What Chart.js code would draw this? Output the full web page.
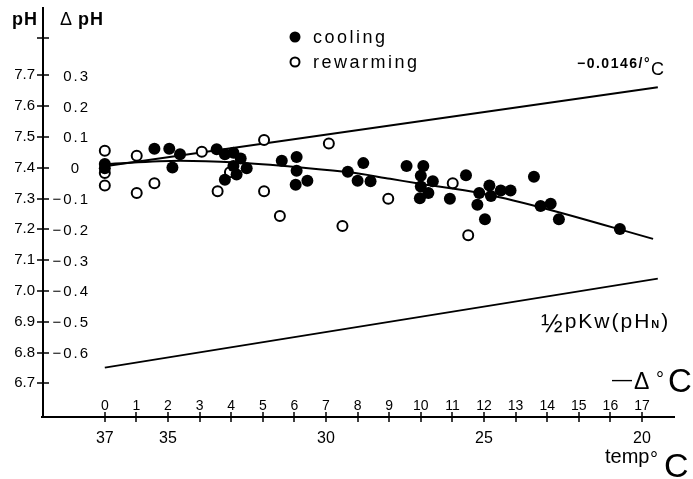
<!DOCTYPE html>
<html>
<head>
<meta charset="utf-8">
<style>
  html, body { margin: 0; padding: 0; background: #fff; }
  canvas { display: block; }
</style>
<script src="https://cdn.jsdelivr.net/npm/chart.js@4.4.0/dist/chart.umd.min.js"></script>
</head>
<body>
<canvas id="chart" width="693" height="479"></canvas>
<script>
// Blood pH against cooling below 37 °C (−Δ°C), cooling and rewarming runs.
const coolingDelta = [0, 0, 1.57, 2.04, 2.38, 2.14, 3.54, 3.80, 4.07, 4.30, 4.07, 4.49, 4.17, 3.80,
  5.60, 6.07, 6.07, 6.41, 6.04, 7.69, 8.18, 8.00, 8.41, 9.55, 10.08, 10.00, 10.38, 10.00, 10.24,
  9.97, 10.92, 11.43, 11.85, 12.17, 12.22, 11.79, 12.03, 12.53, 12.84, 13.58, 13.79, 14.11, 14.37, 16.30];
const coolingPH = [7.412, 7.398, 7.462, 7.462, 7.444, 7.401, 7.460, 7.444, 7.449, 7.430, 7.406, 7.398, 7.378, 7.361,
  7.423, 7.435, 7.390, 7.358, 7.345, 7.387, 7.415, 7.358, 7.356, 7.406, 7.406, 7.374, 7.356, 7.339, 7.318,
  7.301, 7.299, 7.376, 7.318, 7.342, 7.308, 7.280, 7.233, 7.326, 7.326, 7.371, 7.276, 7.283, 7.233, 7.201];

const rewarmingDelta = [0, 0, 0, 1.01, 1.01, 1.57, 3.07, 3.57, 3.96, 5.04, 5.04, 5.54, 7.09, 7.52, 8.97, 11.01, 11.50];
const rewarmingPH = [7.455, 7.383, 7.342, 7.439, 7.318, 7.350, 7.452, 7.324, 7.385, 7.490, 7.324, 7.243, 7.479, 7.211, 7.299, 7.350, 7.181];

// fitted trend through the cooling data
const trendDelta = [0, 2.38, 4.17, 6.18, 7.76, 9.03, 9.98, 11.87, 13.77, 17.35];
const trendPH = [7.412, 7.423, 7.417, 7.401, 7.385, 7.364, 7.348, 7.318, 7.272, 7.169];

// constant-slope line, −0.0146 pH per °C
const slopeDelta = [0, 17.5];
const slopePH = [7.405, 7.661];

// ½ pKw (neutral pH of water)
const neutralDelta = [0, 17.5];
const neutralPH = [6.751, 7.04];

// axis ticks
const deltaTicks = [0, 1, 2, 3, 4, 5, 6, 7, 8, 9, 10, 11, 12, 13, 14, 15, 16, 17];
const tempTickAt = [0, 2, 7, 12, 17];
const tempTickLabels = ['37', '35', '30', '25', '20'];
const phTicks = [6.7, 6.8, 6.9, 7.0, 7.1, 7.2, 7.3, 7.4, 7.5, 7.6, 7.7];
const phTopTick = 7.82;
const dphAt = [6.8, 6.9, 7.0, 7.1, 7.2, 7.3, 7.4, 7.5, 7.6, 7.7];
const dphLabels = ['−0.6', '−0.5', '−0.4', '−0.3', '−0.2', '−0.1', '0', '0.1', '0.2', '0.3'];

const FONT = '"Liberation Sans", Arial, sans-serif';
Chart.defaults.font.family = FONT;
Chart.defaults.color = '#000';

const pts = (xs, ys) => xs.map((v, i) => ({ x: v, y: ys[i] }));

function text(ctx, s, x, y, size, opts = {}) {
  ctx.font = (opts.bold ? 'bold ' : '') + size + 'px ' + FONT;
  ctx.textAlign = opts.align || 'left';
  ctx.textBaseline = opts.baseline || 'alphabetic';
  ctx.letterSpacing = (opts.spacing || 0) + 'px';
  ctx.fillText(s, x, y);
  return ctx.measureText(s).width;
}

const decorations = {
  id: 'decorations',
  beforeDatasetsDraw(chart) {
    const { ctx, chartArea: a, scales: { x, y } } = chart;
    ctx.save();
    ctx.strokeStyle = '#000';
    ctx.fillStyle = '#000';

    // axis lines
    ctx.lineWidth = 2;
    ctx.beginPath();
    ctx.moveTo(a.left, a.top);
    ctx.lineTo(a.left, a.bottom + 1);
    ctx.moveTo(a.left - 2, a.bottom);
    ctx.lineTo(a.right, a.bottom);
    ctx.stroke();

    // tick marks crossing the axes
    ctx.lineWidth = 1.5;
    ctx.beginPath();
    [...phTicks, phTopTick].forEach(v => {
      const p = Math.round(y.getPixelForValue(v));
      ctx.moveTo(a.left - 6, p);
      ctx.lineTo(a.left + 6, p);
    });
    deltaTicks.forEach(v => {
      const p = Math.round(x.getPixelForValue(v));
      ctx.moveTo(p, a.bottom - 5);
      ctx.lineTo(p, a.bottom + 5);
    });
    ctx.stroke();

    // ΔpH labels inside the y axis
    dphAt.forEach((v, i) => {
      const p = y.getPixelForValue(v) + 5.5;
      if (dphLabels[i] === '0') text(ctx, '0', 75, p, 15, { align: 'center' });
      else text(ctx, dphLabels[i], 90, p, 15, { align: 'right', spacing: 2 });
    });

    // −Δ°C labels above the x axis
    deltaTicks.forEach(v => {
      text(ctx, String(v), x.getPixelForValue(v), 410, 14, { align: 'center' });
    });

    // axis titles
    text(ctx, 'pH', 12, 25, 18, { bold: true, spacing: 1 });
    text(ctx, 'Δ', 60, 25, 18);
    text(ctx, 'pH', 78, 25, 18, { bold: true, spacing: 1 });

    text(ctx, '—', 612, 386, 20);
    text(ctx, 'Δ', 634, 389, 23);
    text(ctx, '°', 656, 386, 20);
    text(ctx, 'C', 668, 392, 33);

    text(ctx, 'temp', 605, 463, 20);
    text(ctx, '°', 650, 466, 20);
    text(ctx, 'C', 664, 477, 34);

    // legend
    const ds = chart.data.datasets;
    ctx.beginPath();
    ctx.arc(295, 37, 5.5, 0, Math.PI * 2);
    ctx.fill();
    ctx.beginPath();
    ctx.lineWidth = 2;
    ctx.arc(295, 62, 4.5, 0, Math.PI * 2);
    ctx.stroke();
    text(ctx, ds[0].label, 313, 43, 18, { spacing: 2.5 });
    text(ctx, ds[1].label, 313, 68, 18, { spacing: 2.5 });

    // slope annotation
    text(ctx, '−0.0146/°', 651, 68, 14, { bold: true, align: 'right', spacing: 1.5 });
    text(ctx, 'C', 651, 75, 18);

    // ½ pKw (pHN) annotation
    let cx = 541;
    cx += text(ctx, '½', cx, 332, 26);
    cx += 2;
    cx += text(ctx, 'pKw(pH', cx, 328, 21, { spacing: 2 });
    cx += text(ctx, 'N', cx, 328, 11, { bold: true, spacing: 2 });
    text(ctx, ')', cx, 328, 21);

    ctx.restore();
  }
};

new Chart(document.getElementById('chart'), {
  type: 'scatter',
  data: {
    datasets: [
      {
        label: 'cooling',
        data: pts(coolingDelta, coolingPH),
        pointRadius: 6,
        pointBackgroundColor: '#000',
        pointBorderWidth: 0,
        order: 0
      },
      {
        label: 'rewarming',
        data: pts(rewarmingDelta, rewarmingPH),
        pointRadius: 5,
        pointBackgroundColor: '#fff',
        pointBorderColor: '#000',
        pointBorderWidth: 2,
        order: 1
      },
      {
        type: 'line',
        label: 'trend',
        data: pts(trendDelta, trendPH),
        borderColor: '#000',
        borderWidth: 2,
        pointRadius: 0,
        cubicInterpolationMode: 'monotone',
        fill: false,
        order: 2
      },
      {
        type: 'line',
        label: '−0.0146/°C',
        data: pts(slopeDelta, slopePH),
        borderColor: '#000',
        borderWidth: 2,
        pointRadius: 0,
        fill: false,
        order: 2
      },
      {
        type: 'line',
        label: '½ pKw (pHN)',
        data: pts(neutralDelta, neutralPH),
        borderColor: '#000',
        borderWidth: 2,
        pointRadius: 0,
        fill: false,
        order: 2
      }
    ]
  },
  options: {
    responsive: false,
    animation: false,
    devicePixelRatio: 1,
    events: [],
    layout: { padding: { top: 3, right: 18, left: 0, bottom: 0 } },
    plugins: { legend: { display: false }, tooltip: { enabled: false } },
    scales: {
      x: {
        type: 'linear',
        min: -1.956,
        max: 18.044,
        grid: { display: false, drawTicks: false },
        border: { display: false },
        afterBuildTicks: s => { s.ticks = deltaTicks.map(v => ({ value: v })); },
        afterFit: s => { s.height = 62; s.paddingLeft = 0; s.paddingRight = 0; },
        ticks: {
          autoSkip: false, maxRotation: 0, minRotation: 0, padding: 12,
          color: '#000', font: { size: 16 },
          callback: v => { const i = tempTickAt.indexOf(v); return i < 0 ? '' : tempTickLabels[i]; }
        }
      },
      y: {
        type: 'linear',
        min: 6.5907,
        max: 7.9219,
        grid: { display: false, drawTicks: false },
        border: { display: false },
        afterBuildTicks: s => { s.ticks = phTicks.map(v => ({ value: v })); },
        afterFit: s => { s.width = 43; s.paddingTop = 0; s.paddingBottom = 0; },
        ticks: {
          autoSkip: false, padding: 8, color: '#000', font: { size: 15 },
          callback: v => v.toFixed(1)
        }
      }
    }
  },
  plugins: [decorations]
});
</script>
</body>
</html>
